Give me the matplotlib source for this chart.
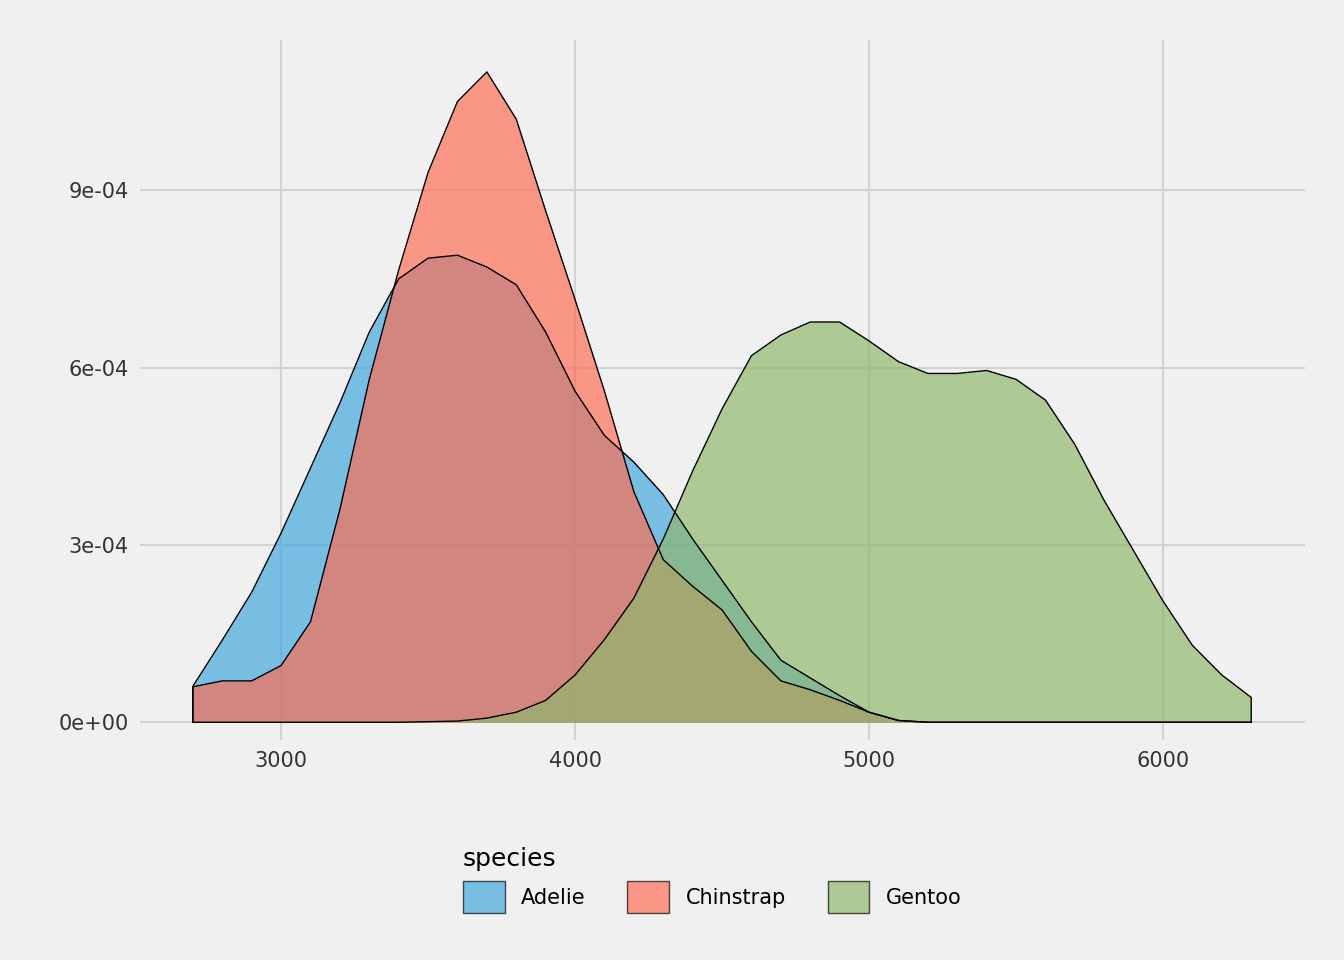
import matplotlib
matplotlib.use("Agg")
import matplotlib.pyplot as plt
import numpy as np
from matplotlib.patches import Patch

mass = [2700,2800,2900,3000,3100,3200,3300,3400,3500,3600,3700,3800,3900,4000,4100,4200,4300,4400,4500,4600,4700,4800,4900,5000,5100,5200,5300,5400,5500,5600,5700,5800,5900,6000,6100,6200,6300]
adelie = [0.61,1.39,2.2,3.2,4.3,5.4,6.6,7.5,7.85,7.9,7.7,7.4,6.6,5.6,4.85,4.4,3.85,3.1,2.4,1.7,1.05,0.75,0.45,0.17,0.03,0,0,0,0,0,0,0,0,0,0,0,0]
chinstrap = [0.6,0.7,0.7,0.96,1.7,3.6,5.8,7.65,9.3,10.5,11.0,10.2,8.65,7.15,5.6,3.9,2.75,2.3,1.9,1.2,0.7,0.55,0.37,0.17,0.03,0,0,0,0,0,0,0,0,0,0,0,0]
gentoo = [0,0,0,0,0,0,0,0,0.01,0.02,0.07,0.17,0.37,0.8,1.4,2.1,3.1,4.25,5.3,6.2,6.55,6.77,6.77,6.45,6.1,5.9,5.9,5.95,5.8,5.45,4.7,3.75,2.9,2.05,1.3,0.8,0.42]
species = ["Adelie","Chinstrap","Gentoo"]
colors = ["#3FA7DE","#FF6B52","#8DB86A"]

fig = plt.figure(figsize=(13.44,9.6), dpi=100, facecolor="#F0F0F0")
ax = fig.add_axes([140/1344, 1-740/960, 1165/1344, 700/960])
ax.set_facecolor("#F0F0F0")
x = np.array(mass)
for ys, c in zip([adelie, chinstrap, gentoo], colors):
    y = np.array(ys)*1e-4
    ax.fill_between(x, 0, y, color=c, alpha=0.68, lw=0, zorder=2)
    ax.plot(np.r_[x[0], x, x[-1]], np.r_[0, y, 0], color="black", lw=1, zorder=3)
ax.set_xlim(2520, 6483)
ax.set_ylim(-0.3e-4, 11.54e-4)
ax.set_xticks([3000,4000,5000,6000])
ax.set_yticks([0,3e-4,6e-4,9e-4])
ax.set_yticklabels(["0e+00","3e-04","6e-04","9e-04"])
ax.grid(True, color="#D2D2D2", lw=1.5, zorder=0)
ax.set_axisbelow(True)
for s in ax.spines.values():
    s.set_visible(False)
ax.tick_params(length=0, labelsize=15, colors="#333333", pad=8)
handles = [Patch(facecolor=c, alpha=0.68, edgecolor="black") for c in colors]
fig.legend(handles, species, loc="center", bbox_to_anchor=(0.53, 1-880/960), ncol=3,
           frameon=False, fontsize=15, title="species", title_fontsize=18,
           handlelength=2, handleheight=2, alignment="left")
leg = fig.legends[0]
leg._legend_box.align = "left"
fig.savefig("out.png", dpi=100, facecolor=fig.get_facecolor())
